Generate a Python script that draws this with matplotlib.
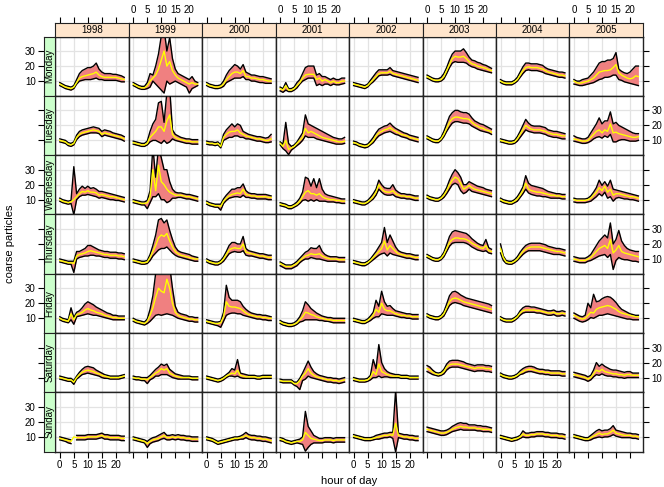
import matplotlib.pyplot as plt
import numpy as np

plt.rcParams['font.family'] = ['Liberation Sans', 'DejaVu Sans']

nan = float('nan')
hours = list(range(24))
years = ['1998', '1999', '2000', '2001', '2002', '2003', '2004', '2005']
days = ['Monday', 'Tuesday', 'Wednesday', 'Thursday', 'Friday', 'Saturday', 'Sunday']

# rows of each year: Monday .. Sunday, 24 hourly values
mean_1998 = [
    [8, 7, 6, 5.5, 5, 6, 9, 12, 13, 13.5, 14, 14.5, 15, 16, 14, 13, 12.5, 12.5, 12.5, 12.5, 12.5, 12, 11.5, 11],
    [10, 9.5, 9, 7.5, 7, 8, 12, 14, 15, 15.5, 16, 16.5, 17, 16.5, 16, 14, 15, 14.5, 14, 13.5, 13, 12.5, 12, 11],
    [10, 9, 8.5, 8, 8.5, 10, 12, 14, 15.5, 15, 16, 15, 15, 14.5, 13, 13.5, 13, 12.5, 12, 12, 11.5, 11, 10.5, 10],
    [9, 8.5, 8, 7.5, 7.5, 7, 12, 13, 13.5, 14, 15, 15.5, 15, 14.5, 14, 13.5, 13, 13, 12.5, 12.5, 12.5, 12, 12, 11.5],
    [10, 9, 8.5, 8, 13, 9, 12.5, 13, 14, 15.5, 16.5, 15.5, 15, 14, 13.5, 13, 12, 11.5, 11, 10.5, 10.5, 10, 10, 10],
    [10, 9.5, 9, 8.5, 8.5, 7, 10, 12, 13.5, 14.5, 15, 14.5, 14, 13, 12.5, 11.5, 11, 10.5, 10, 10, 10, 10, 10.5, 11],
    [9, 8.5, 8, 7.5, 7, 10, 9.5, 9.5, 9.5, 9.5, 10, 10, 10, 10, 10.5, 11, 10, 10, 9.5, 9.5, 9.5, 9.5, 9, 9],
]
hi_1998 = [
    [9, 8, 7, 6.5, 6, 7, 11, 15, 17, 18, 19, 19, 20, 22, 18, 16, 15, 15, 15, 14.5, 14.5, 14, 13.5, 12.5],
    [11, 10.5, 10, 8.5, 8, 9, 13.5, 16, 17, 17.5, 18, 18.5, 19, 18.5, 18, 16, 17, 16.5, 16, 15, 14.5, 14, 13.5, 12.5],
    [11, 10, 9.5, 9, 9.5, 32, 14, 17, 19, 17.5, 19, 17.5, 18, 17, 15.5, 15.5, 15, 14.5, 14, 13.5, 13, 12.5, 12, 11.5],
    [10, 9.5, 9, 8.5, 8.5, 8.5, 15, 15, 16, 17, 19, 19, 18, 17, 16, 15.5, 15, 15, 14.5, 14.5, 14.5, 14, 14, 13.5],
    [11, 10, 9.5, 9, 17, 10.5, 14, 15, 17, 19.5, 21, 20, 19, 17.5, 16.5, 15.5, 14.5, 13.5, 13, 12, 12, 11.5, 11.5, 11.5],
    [11, 10.5, 10, 9.5, 9.5, 8, 11, 13.5, 15.5, 17, 17.5, 17, 16.5, 15, 14, 13, 12, 11.5, 11, 11, 11, 11, 11.5, 12],
    [10, 9.5, 9, 8.5, 8, nan, 11, 11, 11, 11, 11.5, 11.5, 11.5, 11.5, 12, 12.5, 11.5, 11.5, 11, 11, 11, 11, 10.5, 10.5],
]
lo_1998 = [
    [7, 6, 5, 4.5, 4, 5, 8, 10, 10.5, 11, 11, 11, 11.5, 12, 11, 11, 10.5, 10.5, 10.5, 10.5, 10.5, 10, 9.5, 9.5],
    [9, 8.5, 8, 6.5, 6, 7, 10.5, 12.5, 13.5, 14, 14.5, 15, 15, 15, 14.5, 12.5, 13.5, 13, 12.5, 12, 11.5, 11, 10.5, 9.5],
    [9, 8, 7.5, 7, 7.5, 0, 10, 12, 13, 13, 13.5, 13, 12.5, 12, 11, 11.5, 11, 10.5, 10, 10, 9.5, 9.5, 9, 8.5],
    [8, 7.5, 7, 6.5, 6.5, 1, 10, 11, 11.5, 12, 12, 12.5, 12.5, 12, 12, 11.5, 11, 11, 10.5, 10.5, 10.5, 10, 10, 9.5],
    [9, 8, 7.5, 7, 9, 6, 11, 11.5, 12, 12.5, 13, 12.5, 12, 12, 11.5, 11, 10.5, 10, 9.5, 9, 9, 9, 9, 9],
    [9, 8.5, 8, 7.5, 7.5, 5.5, 9, 10.5, 12, 12.5, 13, 12.5, 12, 11.5, 11, 10, 9.5, 9.5, 9, 9, 9, 9, 9.5, 10],
    [8, 7.5, 7, 6, 5.5, nan, 8, 8, 8, 8, 8.5, 8.5, 8.5, 8.5, 9, 9.5, 8.5, 8.5, 8, 8, 8, 8, 7.5, 7.5],
]

mean_1999 = [
    [8, 7, 6, 5.5, 5.5, 7, 10, 12, 14, 18, 24, 30, 20, 23, 17, 14, 12, 11, 10, 9, 8, 9, 8, 8],
    [8.5, 8, 7.5, 7, 7, 8, 12, 14, 16, 19, 19, 16, 23, 27, 14, 12, 11, 10.5, 10, 9.5, 9.5, 9, 9, 9],
    [9, 8.5, 8, 7.5, 7.5, 8, 12, 30, 16, 33, 22, 20, 17, 15, 14, 13, 13, 13, 12.5, 12, 12, 11.5, 11, 10.5],
    [9, 8.5, 8, 7.5, 7.5, 8, 11, 15, 19, 24, 26, 25, 27, 22, 18, 15, 13.5, 12.5, 12, 11.5, 11, 10.5, 10, 10],
    [9, 8, 7.5, 7, 6.5, 8, 12, 17, 24, 30, 28, 27, 36, 30, 20, 14, 12, 11, 10.5, 10, 9.5, 9.5, 9, 9],
    [10, 9.5, 9.5, 9, 9, 8.5, 10, 11.5, 13, 14, 16, 15, 16, 13, 12, 11, 10.5, 10, 10, 10, 10, 9.5, 9.5, 9.5],
    [9, 8.5, 8, 7.5, 7, 5.5, 7, 8, 8.5, 9, 10, 11, 9.5, 9.5, 10, 9.5, 10, 9.5, 9.5, 9, 9, 8.5, 8.5, 8.5],
]
hi_1999 = [
    [9, 8, 7, 6.5, 6.5, 9, 15, 14, 20, 28, 40, 45, 30, 39, 25, 18, 15, 14, 13, 12, 11, 13, 10, 9],
    [9.5, 9, 8.5, 8, 8, 9.5, 16, 21, 24, 35, 36, 22, 42, 45, 17, 14, 13, 12, 11.5, 11, 11, 10.5, 10.5, 10.5],
    [10, 9.5, 9, 8.5, 8.5, 9.5, 16, 45, 25, 45, 38, 30, 30, 22, 17, 15, 14.5, 14.5, 14, 13.5, 13.5, 13, 12.5, 12],
    [10, 9.5, 9, 8.5, 8.5, 9, 13, 19, 26, 36, 37, 34, 36, 29, 23, 18, 15.5, 14.5, 14, 13.5, 13, 12, 11.5, 11],
    [10, 9, 8.5, 8, 7.5, 9.5, 16, 25, 40, 45, 45, 45, 48, 45, 30, 18, 14, 13, 12.5, 12, 11, 11, 10.5, 10.5],
    [11, 10.5, 10.5, 10, 10, 10, 11.5, 13.5, 15.5, 17, 19, 18, 19, 15.5, 14, 12.5, 12, 11.5, 11, 11, 11, 10.5, 10.5, 10.5],
    [10, 9.5, 9, 8.5, 8, 7, 8.5, 9.5, 10, 11, 12, 13, 11, 11, 11.5, 11, 11.5, 11, 11, 10.5, 10.5, 10, 10, 10],
]
lo_1999 = [
    [7, 6, 5, 4.5, 4.5, 5, 6, 10, 8, 6, 4, 2, 10, 8, 9, 10, 9, 8, 7, 6, 2, 5, 6, 7],
    [7.5, 7, 6.5, 6, 6, 7, 9, 10, 10, 9, 8, 10, 8, 9, 11, 10, 9.5, 9, 8.5, 8, 8, 7.5, 7.5, 7.5],
    [8, 7.5, 7, 6.5, 6.5, 4, 8, 12, 12, 14, 10, 10, 8, 9, 11, 11, 11.5, 11.5, 11, 10.5, 10.5, 10, 9.5, 9],
    [8, 7.5, 7, 6.5, 6.5, 7, 9, 12, 14, 16, 17, 17, 18, 16, 14, 12.5, 11.5, 11, 10.5, 10, 9.5, 9, 8.5, 8.5],
    [8, 7, 6.5, 6, 5.5, 6.5, 8, 10, 12, 12.5, 12, 12.5, 13, 12.5, 12, 11, 10, 9.5, 9, 8.5, 8, 8, 7.5, 7.5],
    [9, 8.5, 8.5, 8, 8, 6, 8.5, 9.5, 11, 11, 12, 12, 12, 11, 10, 9.5, 9, 9, 9, 9, 9, 8.5, 8.5, 8.5],
    [8, 7.5, 7, 6.5, 6, 3, 5.5, 6.5, 7, 7.5, 8.5, 9, 8, 8, 8.5, 8, 8.5, 8, 8, 7.5, 7.5, 7, 7, 7],
]

mean_2000 = [
    [8, 7, 6.5, 6, 6, 6.5, 8, 11, 13, 15, 16, 16, 15, 17, 13, 13, 12, 12, 11.5, 11, 11, 10.5, 10, 10],
    [8.5, 8, 8, 7.5, 8, 6, 12, 14, 15.5, 16, 16, 17, 15, 14, 13, 12.5, 12, 11.5, 11, 11, 10.5, 10, 10, 11],
    [8, 7, 6.5, 6, 6, 5.5, 9, 11, 12.5, 13.5, 14, 14.5, 14, 17, 13.5, 13, 12.5, 12.5, 12, 12, 12, 12, 11.5, 11.5],
    [9, 8, 7.5, 7, 7, 8, 10, 13, 16, 17, 17.5, 17, 17, 20, 14.5, 14, 13.5, 13, 12.5, 12, 12, 11.5, 11, 11],
    [8, 7.5, 7, 6.5, 6.5, 7, 11, 21, 18, 17.5, 17.5, 17, 16.5, 15, 13.5, 12.5, 12, 11.5, 11, 11, 10.5, 10.5, 10, 10],
    [10, 9.5, 9, 8.5, 8, 8.5, 9.5, 11, 12, 13, 12.5, 15, 11.5, 11, 10.5, 10.5, 10.5, 10.5, 10, 10, 10.5, 10.5, 10.5, 10.5],
    [9, 8.5, 8, 7, 6, 6.5, 7, 7.5, 8, 8.5, 9, 9, 9.5, 10, 11, 10, 9.5, 9.5, 9, 9, 8.5, 8.5, 8, 7.5],
]
hi_2000 = [
    [9, 8, 7.5, 7, 7, 7.5, 10, 14, 17, 19, 21, 20, 18, 21, 16, 15, 14, 14, 13.5, 13, 13, 12.5, 12, 11.5],
    [9.5, 9, 9, 8.5, 9, 7, 14, 17, 19, 21, 19, 21, 20, 16, 15, 14, 13.5, 13, 12.5, 12.5, 12, 11.5, 12, 14],
    [9, 8, 7.5, 7, 7, 7, 10.5, 13, 15, 17, 17, 18, 18, 20.5, 16, 14.5, 14, 14, 13.5, 13.5, 13.5, 13.5, 13, 12.5],
    [10, 9, 8.5, 8, 8, 9, 11.5, 15, 19, 21, 21, 20, 20, 25, 17, 15.5, 15, 14.5, 14, 13.5, 13.5, 13, 12.5, 12.5],
    [9, 8.5, 8, 7.5, 7.5, 8, 14, 32, 24, 22, 22, 22, 21, 18, 16, 14.5, 13.5, 13, 12.5, 12.5, 12, 12, 11.5, 11],
    [11, 10.5, 10, 9.5, 9, 9.5, 10.5, 12, 13.5, 16, 15, 22, 13, 12.5, 12, 11.5, 11.5, 11.5, 11, 11, 11.5, 11.5, 11.5, 11.5],
    [10, 9.5, 9, 8, 7, 7.5, 8, 8.5, 9, 9.5, 10, 10, 10.5, 11.5, 13, 11.5, 11, 11, 10.5, 10.5, 10, 10, 9.5, 9],
]
lo_2000 = [
    [7, 6, 5.5, 5, 5, 5.5, 6.5, 9, 10, 11, 12, 12, 12, 13, 11, 11, 10, 10, 9.5, 9, 9, 8.5, 8.5, 8.5],
    [7.5, 7, 7, 6.5, 7, 5, 10, 11, 12, 12, 13, 13, 12, 12, 11, 11, 10.5, 10, 9.5, 9.5, 9, 8.5, 8.5, 9],
    [7, 6, 5.5, 5, 5, 3, 7.5, 9.5, 11, 11.5, 12, 12, 11.5, 13, 11.5, 11.5, 11, 11, 10.5, 10.5, 10.5, 10.5, 10, 10],
    [8, 7, 6.5, 6, 6, 7, 8.5, 11, 13.5, 14.5, 15, 14.5, 14.5, 15.5, 12.5, 12, 12, 11.5, 11, 10.5, 10.5, 10, 9.5, 9.5],
    [7, 6.5, 6, 5.5, 5, 4, 8, 12, 13, 13.5, 13.5, 13, 13, 12, 11.5, 11, 10.5, 10, 9.5, 9.5, 9, 9, 8.5, 8.5],
    [9, 8.5, 8, 7.5, 7, 7.5, 8.5, 10, 11, 11, 10.5, 11, 10, 9.5, 9.5, 9.5, 9.5, 9.5, 9, 9, 9.5, 9.5, 9.5, 9.5],
    [8, 7.5, 7, 6, 5, 5.5, 6, 6.5, 7, 7.5, 8, 8, 8.5, 8.5, 9.5, 8.5, 8, 8, 7.5, 7.5, 7, 7, 6.5, 6],
]

mean_2001 = [
    [5, 4, 7, 4, 4, 5, 7, 9, 12, 14, 14.5, 14.5, 14.5, 11, 12, 10, 11, 10, 9, 10, 9, 9, 10, 10],
    [8, 6, 10, 4, 5, 6, 8, 10, 12, 18, 15, 16, 15, 14, 13, 12, 11.5, 11, 10.5, 10, 9.5, 9, 9, 9.5],
    [7, 6.5, 6, 5, 5, 6, 7, 9, 12, 15, 16, 14, 14, 13, 14, 12, 11, 10.5, 10, 10, 9.5, 9.5, 9, 9],
    [7, 6, 5, 5, 5, 6, 7, 9, 10.5, 12, 12.5, 13.5, 13, 13, 13.5, 12, 11, 10.5, 10, 10, 10, 9.5, 9.5, 9.5],
    [7.5, 6.5, 6, 5.5, 5.5, 6, 7, 9, 11, 14, 13.5, 12.5, 12, 11, 10.5, 10, 9.5, 9, 9, 8.5, 8.5, 8.5, 8.5, 8.5],
    [8, 7.5, 7.5, 7.5, 7.5, 6, 6, 8, 11, 13, 16, 13, 11.5, 10.5, 10, 9.5, 9, 8.5, 8.5, 8, 8, 7.5, 8, 8.5],
    [8.5, 8, 7, 6.5, 6, 6.5, 7, 7, 8, 13, 11, 9, 8.5, 8, 7.5, 7.5, 8, 8, 8, 7.5, 8, 8, 8, 8],
]
hi_2001 = [
    [6, 5, 9, 5, 5, 6, 9, 11, 15, 19, 20, 20, 20, 14, 15, 13, 13, 12, 11, 12, 11, 11, 12, 12],
    [9, 7.5, 22, 8, 6, 7, 9, 12, 15, 27, 21, 20, 19, 18, 17, 16, 15, 14, 13, 12, 11.5, 11, 11, 12],
    [8, 7.5, 7, 6, 6, 7, 8.5, 11, 15, 25, 24, 19, 24, 18, 24, 17, 14, 13, 12.5, 12, 11.5, 11, 10.5, 10.5],
    [8, 7, 6, 6, 6, 7, 8.5, 10.5, 12.5, 14.5, 15.5, 17.5, 17, 17, 19, 15, 13, 12, 11.5, 11.5, 11.5, 11, 11, 11],
    [8.5, 7.5, 7, 6.5, 6.5, 7, 8.5, 11, 15, 21, 19, 16.5, 15, 13.5, 12.5, 11.5, 11, 10.5, 10.5, 10, 10, 10, 10, 10],
    [9, 8.5, 8.5, 8.5, 8.5, 7, 7, 9.5, 13, 17, 21, 17, 14, 12.5, 11.5, 11, 10.5, 10, 10, 9.5, 9.5, 9, 9.5, 10],
    [9.5, 9, 8, 7.5, 7, 7.5, 8, 8.5, 10, 27, 17, 14, 11, 10, 9, 9, 9.5, 9.5, 9.5, 9, 9.5, 9.5, 9.5, 9.5],
]
lo_2001 = [
    [3.5, 2.5, 4, 3, 3, 4, 5.5, 8, 10, 11, 12, 12, 12, 7, 8, 7, 8, 8, 7, 8, 7.5, 7.5, 8, 8.5],
    [7, 4.5, 3, 0.5, 3.5, 5, 6.5, 8, 10, 13, 12, 12, 12, 11, 10.5, 10, 9.5, 9, 8.5, 8, 7.5, 7.5, 7.5, 8],
    [6, 5.5, 5, 4, 4, 5, 6, 7.5, 9.5, 10, 9, 10, 9, 10, 9, 9, 9, 8.5, 8.5, 8.5, 8, 8, 7.5, 7.5],
    [5.5, 4.5, 3.5, 3.5, 3.5, 4.5, 5.5, 7.5, 9, 10, 10, 11, 10.5, 10, 10, 9.5, 9, 8.5, 8.5, 8.5, 8.5, 8, 8, 8],
    [6.5, 5.5, 5, 4.5, 4.5, 5, 6, 7.5, 8, 9, 9, 9, 9, 9, 8.5, 8.5, 8, 8, 7.5, 7, 7, 7, 7, 7],
    [7, 6.5, 6.5, 6.5, 6.5, 5, 4, 2, 8, 9, 11, 10, 9.5, 9, 8.5, 8, 7.5, 7, 7, 6.5, 6.5, 6, 6.5, 7],
    [7.5, 7, 6, 5.5, 5, 5.5, 6, 5.5, 5, 0.5, 3, 5, 6, 6, 6, 6, 6.5, 6.5, 6.5, 6, 6.5, 6.5, 6.5, 6.5],
]

mean_2002 = [
    [8, 7.5, 7, 6.5, 6, 7, 9, 11, 13, 15, 15.5, 15.5, 15.5, 16.5, 15, 14.5, 14, 13.5, 13, 12.5, 12, 11.5, 11, 10.5],
    [8.5, 8, 7, 6.5, 6, 6.5, 8, 10, 13, 15, 16, 17, 17.5, 18.5, 17, 16, 15, 14, 13.5, 13, 12, 11.5, 11, 10.5],
    [9, 8.5, 8, 7.5, 7.5, 8.5, 10, 12, 15, 20, 17, 15.5, 15, 15, 16, 14, 13, 12.5, 12.5, 12, 12, 11.5, 11, 11],
    [8, 7.5, 7, 6.5, 6.5, 7.5, 9, 11, 13, 15, 17, 22, 16, 19, 17, 15, 13.5, 13, 12.5, 12, 12, 11.5, 11, 11],
    [9, 8.5, 8, 7.5, 7.5, 8.5, 10, 12, 16, 14, 20, 16, 15, 15, 14, 13, 12.5, 12, 12, 11.5, 11.5, 11, 11, 11],
    [9, 8.5, 8, 8, 8, 8.5, 10, 14, 12, 19, 14, 13, 12, 11.5, 11, 11, 11, 10.5, 10.5, 10.5, 10, 10, 10, 10],
    [10.5, 10, 9.5, 9, 8.5, 8.5, 8.5, 9, 9.5, 10, 10.5, 11, 11, 11.5, 11, 19, 11, 10.5, 10, 10, 9.5, 9.5, 9, 9],
]
hi_2002 = [
    [9, 8.5, 8, 7.5, 7, 8, 10.5, 13, 15.5, 17.5, 17.5, 17.5, 17.5, 19, 17, 16.5, 16, 15.5, 15, 14.5, 14, 13.5, 13, 12.5],
    [9.5, 9, 8, 7.5, 7, 7.5, 9.5, 12, 15, 17.5, 18.5, 19.5, 20, 21.5, 19.5, 18, 17, 16, 15, 14.5, 13.5, 13, 12.5, 12],
    [10, 9.5, 9, 8.5, 8.5, 9.5, 11.5, 14, 17, 23, 20, 18, 17.5, 17.5, 20, 16.5, 15, 14, 14, 13.5, 13.5, 13, 12.5, 12.5],
    [9, 8.5, 8, 7.5, 7.5, 8.5, 10, 12.5, 15, 18, 21, 31, 21, 26, 22, 18, 15.5, 14.5, 14, 13.5, 13.5, 13, 12.5, 12.5],
    [10, 9.5, 9, 8.5, 8.5, 9.5, 11.5, 14, 22, 18, 28, 21, 18, 18.5, 16.5, 15, 14.5, 14, 13.5, 13, 13, 12.5, 12.5, 12.5],
    [10, 9.5, 9, 9, 9, 9.5, 11.5, 22, 16, 32, 20, 16, 14, 13, 12.5, 12, 12, 11.5, 11.5, 11.5, 11, 11, 11, 11],
    [11.5, 11, 10.5, 10, 9.5, 9.5, 9.5, 10, 11, 11.5, 12, 12.5, 12.5, 13, 13, 41, 12.5, 12, 11.5, 11.5, 11, 11, 10.5, 10.5],
]
lo_2002 = [
    [7, 6.5, 6, 5.5, 5, 6, 8, 9.5, 11.5, 13.5, 14, 14, 14, 14.5, 13.5, 13, 12.5, 12, 11.5, 11, 10.5, 10, 9.5, 9],
    [7.5, 7, 6, 5.5, 5, 5.5, 7, 8.5, 11, 13, 14, 15, 15.5, 16, 15, 14, 13.5, 12.5, 12, 11.5, 10.5, 10, 9.5, 9],
    [8, 7.5, 7, 6.5, 6.5, 7.5, 9, 10.5, 13, 17, 15, 13.5, 13, 13, 13.5, 12, 11.5, 11, 11, 10.5, 10.5, 10, 9.5, 9.5],
    [7, 6.5, 6, 5.5, 5.5, 6.5, 8, 9.5, 11, 12.5, 13.5, 14, 12, 14, 13, 12.5, 12, 11.5, 11, 10.5, 10.5, 10, 9.5, 9.5],
    [8, 7.5, 7, 6.5, 6.5, 7.5, 8.5, 10, 11, 11, 13, 12.5, 12, 12, 12, 11.5, 11, 10.5, 10.5, 10, 10, 9.5, 9.5, 9.5],
    [8, 7.5, 7, 7, 7, 7.5, 8.5, 10, 10, 11, 10, 10.5, 10.5, 10, 10, 10, 10, 9.5, 9.5, 9.5, 9, 9, 9, 9],
    [9.5, 9, 8.5, 8, 7.5, 7.5, 7.5, 8, 8.5, 8.5, 9, 9.5, 9.5, 10, 9, 0, 9.5, 9, 8.5, 8.5, 8, 8, 7.5, 7.5],
]

mean_2003 = [
    [13, 12, 11, 10.5, 10.5, 11, 13, 17, 21, 25, 26.5, 26, 26, 26.5, 25, 23, 21.5, 21, 20, 19.5, 19, 18.5, 17.5, 17],
    [12, 11, 10, 9.5, 9.5, 11, 14, 18, 22, 24.5, 25.5, 25.5, 25, 24.5, 24.5, 24, 22, 20.5, 19.5, 18.5, 18, 17, 16.5, 15.5],
    [12, 11, 10.5, 10, 10, 11, 13, 16, 20, 23, 25, 24, 21, 17, 18, 19.5, 18, 17, 16.5, 16, 15.5, 15, 14.5, 14],
    [12, 11, 10, 9.5, 9.5, 10.5, 13, 17, 21, 23, 24, 24, 23.5, 23.5, 23, 22, 20.5, 19.5, 18.5, 17.5, 17, 19, 15.5, 15],
    [12, 11, 10.5, 10, 10, 11, 13, 17, 21, 23, 23.5, 23, 22, 21, 20.5, 20, 19.5, 19, 18.5, 18, 17.5, 17, 16.5, 16],
    [16, 15, 13.5, 12.5, 12, 12.5, 14, 17, 18.5, 19, 19, 19, 18.5, 18, 17.5, 17, 16.5, 16, 16.5, 16.5, 16.5, 16, 16, 15.5],
    [15, 14.5, 14, 13.5, 13, 12.5, 12.5, 13, 14, 15, 16, 16.5, 17, 16.5, 16.5, 16, 16, 16, 15.5, 15.5, 15, 15, 15, 14.5],
]
hi_2003 = [
    [14, 13, 12, 11.5, 11.5, 12.5, 15, 19, 24, 28, 30, 30, 30, 31.5, 29, 26, 24, 23.5, 22.5, 22, 21, 20.5, 19.5, 18.5],
    [13, 12, 11, 10.5, 10.5, 12, 16, 21, 26, 28.5, 30, 30, 29, 28.5, 28.5, 27.5, 25, 23, 22, 21, 20.5, 19.5, 18.5, 17.5],
    [13, 12, 11.5, 11, 11, 12, 14.5, 18, 23, 27, 30, 28, 25, 20, 20, 22, 21, 20, 19, 18.5, 18, 17, 16.5, 16],
    [13, 12, 11, 10.5, 10.5, 11.5, 14.5, 19.5, 25, 28, 29, 28.5, 28, 27.5, 27, 25.5, 23.5, 22, 20.5, 19.5, 19, 23, 17.5, 16.5],
    [13, 12, 11.5, 11, 11, 12, 14.5, 19.5, 25, 27.5, 28, 27, 25.5, 24.5, 23.5, 23, 22.5, 22, 21.5, 21, 20.5, 20, 19.5, 18.5],
    [18, 17, 15, 13.5, 13, 13.5, 15.5, 19, 21, 21.5, 21.5, 21.5, 21, 20.5, 19.5, 19, 18.5, 18, 18.5, 18.5, 18.5, 18, 18, 17.5],
    [16.5, 16, 15.5, 15, 14.5, 14, 14, 14.5, 15.5, 17, 18, 19, 19.5, 19, 19, 18, 18, 18, 17.5, 17.5, 17, 17, 16.5, 16],
]
lo_2003 = [
    [12, 11, 10, 9.5, 9.5, 10, 11.5, 15, 19, 22, 23, 22.5, 22.5, 22.5, 22, 20.5, 19.5, 19, 18, 17.5, 17, 16.5, 16, 15.5],
    [11, 10, 9, 8.5, 8.5, 10, 12.5, 16, 19, 21.5, 22.5, 22.5, 22, 21.5, 21.5, 21, 19.5, 18.5, 17.5, 16.5, 16, 15.5, 15, 14],
    [11, 10, 9.5, 9, 9, 10, 11.5, 14, 17, 20, 21, 20, 16, 14, 15, 17, 15.5, 15, 14.5, 14, 13.5, 13, 12.5, 12],
    [11, 10, 9, 8.5, 8.5, 9.5, 11.5, 15, 18.5, 20.5, 21, 21, 21, 21, 20.5, 19.5, 18, 17, 16, 15.5, 15, 15.5, 14, 13.5],
    [11, 10, 9.5, 9, 9, 10, 11.5, 15, 18.5, 20, 20.5, 20, 19.5, 18.5, 18, 17.5, 17, 16.5, 16, 15.5, 15, 14.5, 14, 13.5],
    [14, 13, 12, 11.5, 11, 11.5, 12.5, 15, 16.5, 17, 17, 17, 16.5, 16, 15.5, 15, 14.5, 14, 14.5, 14.5, 14.5, 14, 14, 13.5],
    [13.5, 13, 12.5, 12, 11.5, 11, 11, 11.5, 12.5, 13.5, 14, 14.5, 15, 14.5, 14.5, 14.5, 14.5, 14.5, 14, 14, 13.5, 13.5, 13.5, 13],
]

mean_2004 = [
    [10, 9, 8.5, 8.5, 8.5, 9.5, 11, 14, 17, 19, 19.5, 19, 19, 19, 18.5, 18, 17, 16, 15.5, 15, 14.5, 14, 14, 13.5],
    [10, 9.5, 9, 8.5, 8.5, 9, 11, 14, 17, 20, 18.5, 17.5, 17, 17, 17, 16.5, 16, 15, 14.5, 14, 14, 13.5, 13, 13],
    [10, 9, 8.5, 8, 8, 9, 10.5, 13, 16, 21, 17, 16, 15.5, 15, 15, 14.5, 14, 13.5, 13, 13, 12.5, 12.5, 12, 12],
    [17, 11, 8, 7.5, 7.5, 8.5, 10, 12.5, 15, 16.5, 17.5, 18, 18, 18, 18, 17.5, 17, 16.5, 16, 15.5, 15, 15, 14.5, 14],
    [10, 9, 8.5, 8.5, 8.5, 9.5, 11, 13.5, 15, 15.5, 15.5, 15.5, 15.5, 15, 15, 14.5, 14, 13.5, 13.5, 14, 13, 13, 13.5, 13],
    [12, 11, 10.5, 10, 10, 10.5, 11.5, 13, 14, 15, 15.5, 15.5, 15, 14.5, 14, 14, 13.5, 13.5, 13, 13, 13, 13, 12.5, 12.5],
    [10, 9.5, 9, 8.5, 8, 8.5, 9, 10, 12, 11, 11, 11.5, 11.5, 12, 12, 12, 11.5, 11.5, 11, 11, 11, 10.5, 10.5, 10],
]
hi_2004 = [
    [11, 10, 9.5, 9.5, 9.5, 10.5, 12.5, 16, 19.5, 22, 22, 21.5, 21.5, 21.5, 21, 20.5, 19, 18, 17.5, 17, 16.5, 16, 16, 15.5],
    [11, 10.5, 10, 9.5, 9.5, 10, 12.5, 16, 20, 24, 21.5, 20, 19.5, 19.5, 19.5, 19, 18.5, 17, 16.5, 16, 16, 15.5, 15, 14.5],
    [11, 10, 9.5, 9, 9, 10, 12, 15, 18.5, 26, 21, 19.5, 19, 18.5, 18, 17.5, 16.5, 15.5, 15, 14.5, 14, 14, 13.5, 13.5],
    [20, 12, 9, 8.5, 8.5, 9.5, 11.5, 14.5, 17, 19, 20, 20.5, 20.5, 20.5, 20.5, 20, 19.5, 18.5, 18, 17.5, 17, 17, 16.5, 16],
    [11, 10, 9.5, 9.5, 9.5, 10.5, 12, 15, 17, 18, 18, 17.5, 17.5, 17, 16.5, 16, 15.5, 15, 15, 15.5, 14.5, 14.5, 15, 14.5],
    [13, 12, 11.5, 11, 11, 11.5, 12.5, 14.5, 16, 17, 17.5, 17.5, 17, 16, 15.5, 15.5, 15, 15, 14.5, 14.5, 14.5, 14.5, 14, 14],
    [11, 10.5, 10, 9.5, 9, 9.5, 10, 11, 14, 12.5, 12.5, 13, 13, 13.5, 13.5, 13.5, 13, 13, 12.5, 12.5, 12.5, 12, 12, 11.5],
]
lo_2004 = [
    [9, 8, 7.5, 7.5, 7.5, 8.5, 10, 12.5, 15, 17, 17.5, 17, 17, 17, 16.5, 16, 15, 14.5, 14, 13.5, 13, 12.5, 12.5, 12],
    [9, 8.5, 8, 7.5, 7.5, 8, 9.5, 12, 14.5, 17, 16, 15.5, 15, 15, 15, 14.5, 14, 13, 12.5, 12, 12, 11.5, 11, 11],
    [9, 8, 7.5, 7, 7, 8, 9, 11.5, 14, 17, 14.5, 13.5, 13, 12.5, 12.5, 12, 12, 11.5, 11, 11, 11, 11, 10.5, 10.5],
    [14, 9, 7, 6.5, 6.5, 7.5, 9, 11, 13, 14.5, 15.5, 15.5, 15.5, 15.5, 15.5, 15, 14.5, 14, 13.5, 13, 13, 13, 12.5, 12],
    [9, 8, 7.5, 7.5, 7.5, 8.5, 10, 12, 13.5, 14, 14, 14, 14, 13.5, 13.5, 13, 12.5, 12, 12, 12.5, 11.5, 11.5, 12, 11.5],
    [11, 10, 9.5, 9, 9, 9.5, 10.5, 12, 12.5, 13.5, 14, 14, 13.5, 13, 12.5, 12.5, 12, 12, 11.5, 11.5, 11.5, 11.5, 11, 11],
    [9, 8.5, 8, 7.5, 7, 7.5, 8, 9, 10, 9.5, 9.5, 10, 10, 10.5, 10.5, 10.5, 10, 10, 9.5, 9.5, 9.5, 9, 9, 8.5],
]

mean_2005 = [
    [10, 9, 8.5, 9, 9.5, 10, 11, 12, 14, 16, 16.5, 17, 17, 17.5, 19, 21, 15.5, 14, 13, 12, 11.5, 12, 13.5, 13],
    [11, 10.5, 10, 9.5, 9.5, 10, 12, 14, 16, 17, 15, 17, 16, 21, 15, 15.5, 14.5, 14, 13.5, 13, 12.5, 12, 12, 12.5],
    [10, 9.5, 9.5, 9.5, 9.5, 10, 11, 13, 15, 18, 16, 19, 15, 17, 13, 14, 14, 13.5, 13, 12.5, 12, 12, 11.5, 11],
    [10, 9.5, 9, 9, 9, 10, 11, 13, 15, 17, 18, 19, 17, 23, 14, 16, 19, 15, 14, 13.5, 13, 12.5, 12, 11.5],
    [12, 11, 10, 9.5, 10, 12, 14, 13.5, 16, 17, 17.5, 18, 18.5, 18, 17, 16, 14.5, 13.5, 13, 12.5, 12, 11.5, 11, 11],
    [12, 11.5, 11, 10.5, 10, 9, 10, 12.5, 15, 14, 15.5, 14, 13.5, 13, 12.5, 12.5, 12, 12, 11.5, 12, 12, 11.5, 11.5, 11.5],
    [10.5, 10, 9.5, 9, 8.5, 8.5, 9.5, 10.5, 11.5, 12.5, 11.5, 12, 12, 13, 14.5, 12.5, 12, 11.5, 11, 11, 11, 10.5, 10.5, 10],
]
hi_2005 = [
    [11, 10, 10, 11, 11.5, 12, 14, 16, 19, 22, 23, 23, 24, 24, 25, 29, 18, 16.5, 15.5, 15, 16, 18, 20, 20],
    [13, 12, 11.5, 11, 11, 12, 15, 18, 21, 25, 21, 23, 23, 29, 21, 22, 20, 19, 18, 17, 16, 15, 14.5, 14.5],
    [11, 10.5, 10.5, 10.5, 10.5, 11, 12.5, 15, 18, 23, 19.5, 22, 19, 23, 17, 16.5, 16, 15.5, 15, 14.5, 14, 13.5, 13, 12.5],
    [11.5, 11, 10.5, 10.5, 10.5, 11.5, 13, 16, 19, 22, 24, 26, 24, 34, 20, 23, 29, 22, 19, 17, 16, 15.5, 15, 15],
    [13.5, 12.5, 11.5, 11, 12, 20, 17, 26, 21, 21.5, 23, 24, 24.5, 24, 22.5, 20.5, 18, 16, 15, 14, 13, 12.5, 12, 12],
    [13.5, 13, 12.5, 12, 11.5, 10.5, 11.5, 15, 20, 17.5, 19, 17.5, 16.5, 15.5, 15, 15, 14.5, 14, 13.5, 14, 14, 13, 13, 13],
    [11.5, 11, 10.5, 10, 9.5, 9.5, 11, 12.5, 14, 15, 14, 14.5, 14.5, 15.5, 17.5, 14.5, 14, 13.5, 13, 12.5, 12.5, 12, 12, 11.5],
]
lo_2005 = [
    [8, 7.5, 7, 7, 7.5, 8, 8.5, 9, 10, 11, 11.5, 12.5, 12.5, 13, 14, 14, 11, 10.5, 9.5, 9, 8.5, 8, 7.5, 7],
    [9.5, 9, 8.5, 8, 8, 8.5, 9.5, 11, 12, 12.5, 11.5, 13, 12, 14, 9, 9, 10, 10.5, 10.5, 10, 9.5, 9.5, 9.5, 10],
    [8.5, 8, 8, 8, 8, 8.5, 9, 10.5, 12, 14, 12.5, 15, 11, 12, 9, 11, 11.5, 11, 10.5, 10.5, 10, 10, 9.5, 9],
    [8.5, 8, 7.5, 7.5, 7.5, 8.5, 9, 10, 11, 12, 12.5, 13, 11, 13, 3, 9, 11, 10, 9.5, 9.5, 9, 8.5, 8.5, 8],
    [10, 9, 8, 7.5, 8, 9, 10.5, 10, 11, 12, 12, 12.5, 13, 12.5, 12, 11.5, 11, 10.5, 10, 9.5, 9.5, 9, 9, 9],
    [10.5, 10, 9.5, 9, 8.5, 7.5, 8.5, 10.5, 12, 11.5, 12.5, 11.5, 11, 11, 10.5, 10.5, 10, 10, 9.5, 10, 10, 10, 10, 10],
    [9.5, 9, 8.5, 8, 7.5, 7.5, 8, 9, 9.5, 10, 9.5, 10, 10, 10.5, 11.5, 10.5, 10, 9.5, 9.5, 9.5, 9.5, 9, 9, 8.5],
]

means = [mean_1998, mean_1999, mean_2000, mean_2001, mean_2002, mean_2003, mean_2004, mean_2005]
highs = [hi_1998, hi_1999, hi_2000, hi_2001, hi_2002, hi_2003, hi_2004, hi_2005]
lows = [lo_1998, lo_1999, lo_2000, lo_2001, lo_2002, lo_2003, lo_2004, lo_2005]

W, H = 664, 487
fig = plt.figure(figsize=(W / 100, H / 100), dpi=100)


def box(x0, y0, w, h):
    # pixel box (top-left origin) -> figure fraction
    return [x0 / W, 1 - (y0 + h) / H, w / W, h / H]


left, top = 55.3, 36.5
cw, rh = 73.45, 59.3
strip_w, strip_h = 11.3, 13.5
xlim = (-1.61, 24.61)
ylim = (0.2, 39.7)
xt = [0, 5, 10, 15, 20]
yt = [10, 20, 30]
frame = '#222222'
fs = 7

for r, day in enumerate(days):
    for c, yr in enumerate(years):
        ax = fig.add_axes(box(left + c * cw, top + r * rh, cw, rh))
        ax.set_xlim(*xlim)
        ax.set_ylim(*ylim)
        ax.set_xticks(xt)
        ax.set_yticks(yt)
        ax.grid(True, color='#E3E3E3', lw=0.9)
        ax.set_axisbelow(True)
        m = np.array(means[c][r], dtype=float)
        hi = np.array(highs[c][r], dtype=float)
        lo = np.array(lows[c][r], dtype=float)
        ax.fill_between(hours, lo, hi, color='#F08080', lw=0, zorder=2)
        ax.plot(hours, hi, color='black', lw=1.0, zorder=3)
        ax.plot(hours, lo, color='black', lw=1.0, zorder=3)
        ax.plot(hours, m, color='#FFFF00', lw=1.0, zorder=4)
        for s in ax.spines.values():
            s.set_color(frame)
            s.set_linewidth(1.0)
        ax.tick_params(direction='out', length=4, width=0.8, color='black',
                       labelsize=fs, pad=2,
                       left=False, labelleft=False,
                       bottom=(r == 6), labelbottom=(r == 6 and c % 2 == 0),
                       right=(c == 7), labelright=(c == 7 and r % 2 == 1))

        # year strip on the top row
        if r == 0:
            sx = fig.add_axes(box(left + c * cw, top - strip_h, cw, strip_h))
            sx.set_facecolor('#FFE5CC')
            sx.set_xlim(*xlim)
            sx.set_xticks(xt)
            sx.set_yticks([])
            sx.xaxis.tick_top()
            sx.tick_params(direction='out', length=4, width=0.8, labelsize=fs, pad=2,
                           labeltop=(c % 2 == 1))
            sx.text(0.5, 0.45, yr, transform=sx.transAxes, ha='center', va='center', fontsize=fs)
            for s in sx.spines.values():
                s.set_color(frame)
                s.set_linewidth(0.8)

    # weekday strip on the left column
    sy = fig.add_axes(box(left - strip_w, top + r * rh, strip_w, rh))
    sy.set_facecolor('#CCFFCC')
    sy.set_ylim(*ylim)
    sy.set_yticks(yt)
    sy.set_xticks([])
    sy.tick_params(direction='out', length=4, width=0.8, labelsize=fs, pad=2,
                   labelleft=(r % 2 == 0))
    sy.text(0.5, 0.5, day, transform=sy.transAxes, rotation=90,
            ha='center', va='center', fontsize=fs)
    for s in sy.spines.values():
        s.set_color(frame)
        s.set_linewidth(0.8)

fig.text((left + 4 * cw) / W, 1 - 481 / H, 'hour of day', ha='center', va='center', fontsize=8)
fig.text(10 / W, 1 - (top + 3.5 * rh) / H, 'coarse particles', rotation=90,
         ha='center', va='center', fontsize=8)

fig.savefig('out.png', dpi=100)
